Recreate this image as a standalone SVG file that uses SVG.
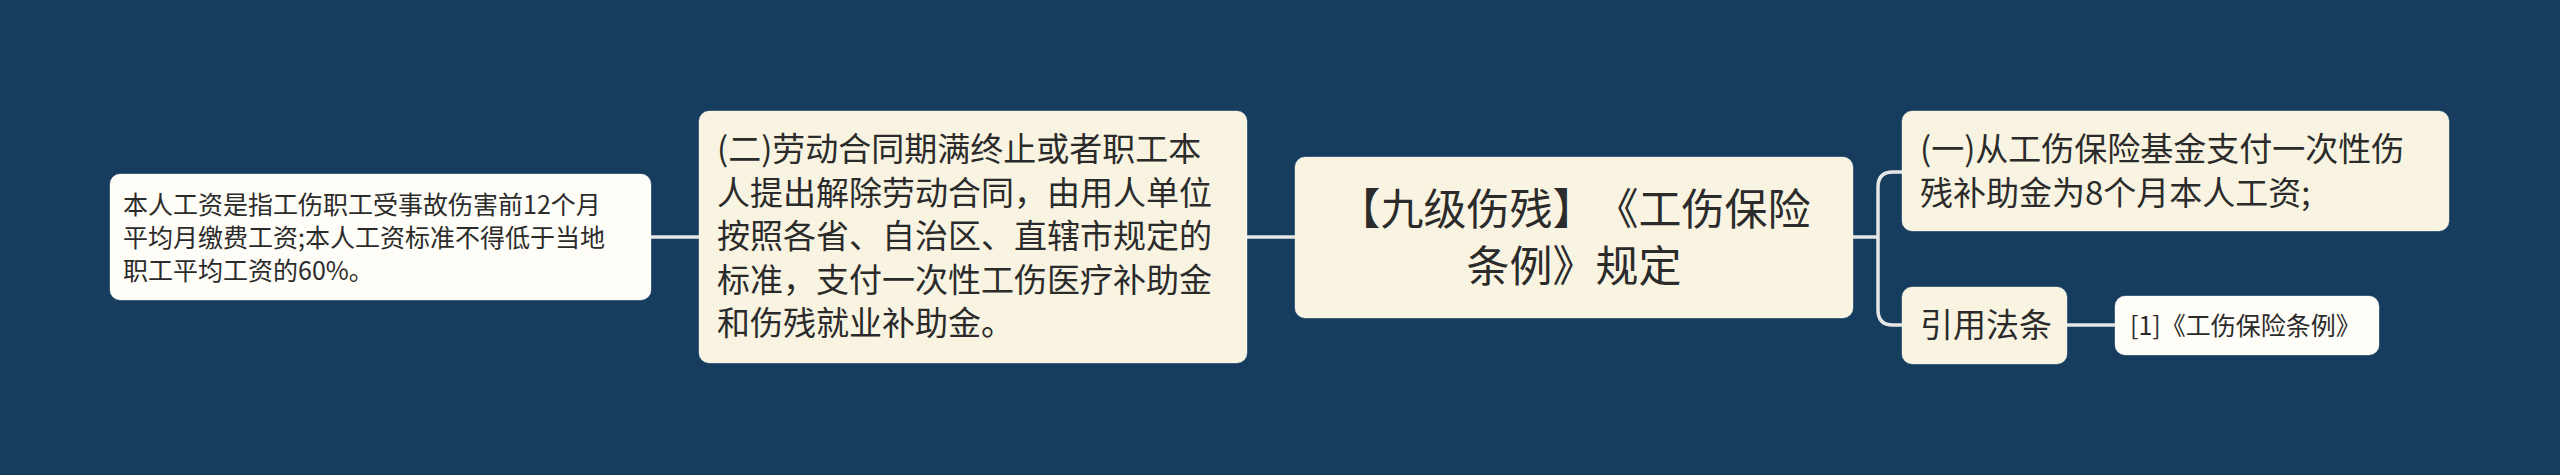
<svg xmlns="http://www.w3.org/2000/svg" width="2560" height="475" viewBox="0 0 2560 475">
<style>
text{font-family:"Noto Sans CJK SC","Noto Sans",sans-serif;fill:#2b2b2b;text-spacing-trim:space-all}
.n{fill:#f9f4e1;stroke:#ffffff;stroke-opacity:.35;stroke-width:1}
.w{fill:#fefdf7;stroke:#ffffff;stroke-opacity:.35;stroke-width:1}
.c{fill:none;stroke:#e6e6e6;stroke-width:3.5}
.s25{font-size:25px}
.s33{font-size:33px}
.s43{font-size:43px}
</style>
<rect width="2560" height="475" fill="#173d5e"/>
<g id="connectors">
<path class="c" d="M651 237H699"/>
<path class="c" d="M1247 237H1295"/>
<path class="c" d="M1853 237H1878"/>
<path class="c" d="M1902 172H1893Q1878 172 1878 187V310Q1878 325 1893 325H1902"/>
<path class="c" d="M2067 325H2115"/>
</g>
<g id="node-left">
<rect class="w" x="110" y="174" width="541" height="126" rx="10"/>
<text class="s25"><tspan x="123" y="214">本人工资是指工伤职工受事故伤害前12个月</tspan><tspan x="123" y="247">平均月缴费工资;本人工资标准不得低于当地</tspan><tspan x="123" y="280">职工平均工资的60%。</tspan></text>
</g>
<g id="node-2">
<rect class="n" x="699" y="111" width="548" height="252" rx="10"/>
<text class="s33"><tspan x="717" y="161">(二)劳动合同期满终止或者职工本</tspan><tspan x="717" y="204.5">人提出解除劳动合同，由用人单位</tspan><tspan x="717" y="248">按照各省、自治区、直辖市规定的</tspan><tspan x="717" y="291.5">标准，支付一次性工伤医疗补助金</tspan><tspan x="717" y="335">和伤残就业补助金。</tspan></text>
</g>
<g id="root">
<rect class="n" x="1295" y="157" width="558" height="161" rx="10"/>
<text class="s43" text-anchor="middle"><tspan x="1574" y="225">【九级伤残】《工伤保险</tspan><tspan x="1574" y="282">条例》规定</tspan></text>
</g>
<g id="node-r1">
<rect class="n" x="1902" y="111" width="547" height="120" rx="10"/>
<text class="s33"><tspan x="1920" y="161">(一)从工伤保险基金支付一次性伤</tspan><tspan x="1920" y="204.5">残补助金为8个月本人工资;</tspan></text>
</g>
<g id="node-r2">
<rect class="n" x="1902" y="287" width="165" height="77" rx="10"/>
<text class="s33" x="1920" y="337">引用法条</text>
</g>
<g id="node-r3">
<rect class="w" x="2115" y="296" width="264" height="59" rx="10"/>
<text class="s25" x="2130" y="335">[1]《工伤保险条例》</text>
</g>
</svg>
